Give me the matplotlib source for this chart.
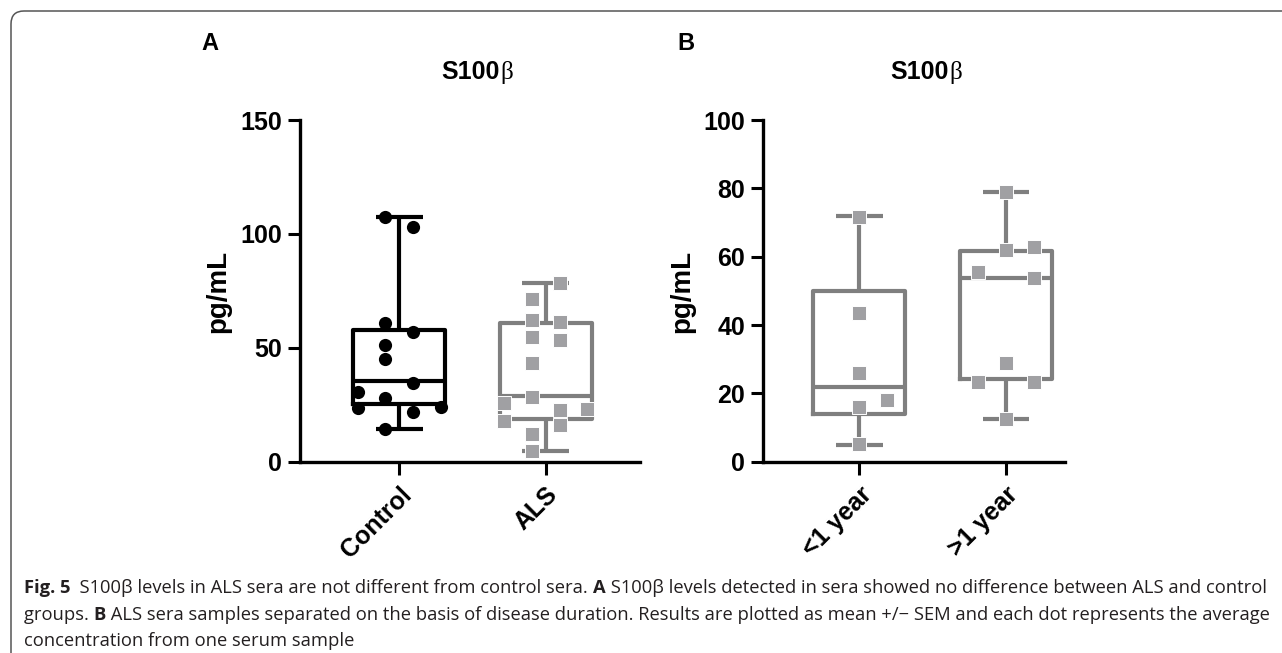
import matplotlib
matplotlib.use("Agg")
import matplotlib.pyplot as plt
from matplotlib.path import Path
from matplotlib.patches import PathPatch
from matplotlib.transforms import IdentityTransform
from matplotlib import font_manager

# ---------------- data ----------------
groups_a = ["Control", "ALS"]
groups_b = ["<1 year", ">1 year"]

control_vals = [107.3, 103.2, 61.0, 57.1, 51.2, 44.9, 34.4, 30.5, 27.8, 24.1, 23.4, 22.0, 14.2]
als_vals = [78.6, 71.3, 62.2, 61.5, 54.9, 53.4, 43.2, 28.5, 25.9, 22.7, 23.0, 17.9, 16.1, 12.0, 4.8]
lt1_vals = [71.7, 43.5, 26.1, 18.1, 16.0, 5.1]
gt1_vals = [79.0, 62.1, 62.8, 55.4, 53.8, 28.9, 23.2, 23.2, 12.4]

# swarm column slot of each point
control_slot = [-0.5, 0.5, -0.5, 0.5, -0.5, -0.5, 0.5, -1.5, -0.5, 1.5, -1.5, 0.5, -0.5]
als_slot = [0.5, -0.5, -0.5, 0.5, -0.5, 0.5, -0.5, -0.5, -1.5, 0.5, 1.5, -1.5, 0.5, -0.5, -0.5]
lt1_slot = [0, 0, 0, 1, 0, 0]
gt1_slot = [0, 0, 1, -1, 1, 0, -1, 1, 0]

# box statistics (whislo, q1, median, q3, whishi)
control_box = [14.2, 25.2, 35.4, 58.0, 107.3]
als_box = [4.8, 18.6, 29.0, 60.7, 78.6]
lt1_box = [5.0, 13.9, 22.0, 50.1, 71.8]
gt1_box = [12.4, 24.2, 53.8, 61.6, 79.0]

yticks_a = [0, 50, 100, 150]
yticks_b = [0, 20, 40, 60, 80, 100]

caption_lines = [
    [("Fig. 5", True), ("  S100\u03b2 levels in ALS sera are not different from control sera. ", False),
     ("A", True), (" S100\u03b2 levels detected in sera showed no difference between ALS and control", False)],
    [("groups. ", False), ("B", True),
     (" ALS sera samples separated on the basis of disease duration. Results are plotted as mean +/\u2212 SEM and each dot represents the average", False)],
    [("concentration from one serum sample", False)],
]

# ---------------- style ----------------
W, H = 1282, 653
fig = plt.figure(figsize=(W / 100, H / 100), dpi=100)
renderer = fig.canvas.get_renderer()
SANS = "Liberation Sans"
BLACK = "black"
GREY_LINE = "#7f7f7f"
GREY_PT = "#a0a0a3"
SLOT = 0.19


def stats(b):
    return dict(whislo=b[0], q1=b[1], med=b[2], q3=b[3], whishi=b[4], fliers=[])


def panel(rect, names, boxes, vals, slots, colors, ptcolors, markers, ms, ylim, yticks, xlim):
    ax = fig.add_axes(rect)
    for i, (b, v, s, c, pc, m) in enumerate(zip(boxes, vals, slots, colors, ptcolors, markers)):
        pos = i + 1
        props = dict(color=c, linewidth=3.0, solid_capstyle="butt")
        ax.bxp([stats(b)], positions=[pos], widths=0.63, capwidths=[0.32],
               boxprops=dict(color=c, linewidth=3.0),
               whiskerprops=props, capprops=props,
               medianprops=dict(color=c, linewidth=3.0, solid_capstyle="butt"),
               showfliers=False, manage_ticks=False, zorder=2)
        xs = [pos + SLOT * k for k in s]
        ax.plot(xs, v, linestyle="none", marker=m, markersize=ms[i], color=pc,
                markeredgecolor="white" if m == "s" else pc, markeredgewidth=0.7 if m == "s" else 0,
                zorder=3, clip_on=False)
    ax.set_xlim(*xlim)
    ax.set_ylim(*ylim)
    ax.set_yticks(yticks)
    ax.set_xticks([1, 2])
    ax.set_xticklabels(names, rotation=45, ha="right", rotation_mode="anchor",
                       fontsize=18, fontweight="bold", family=SANS)
    for lab in ax.get_yticklabels():
        lab.set_fontsize(18)
        lab.set_fontweight("bold")
        lab.set_family(SANS)
    ax.tick_params(axis="both", width=2.2, length=9, color="black")
    ax.tick_params(axis="y", pad=4)
    ax.tick_params(axis="x", pad=6)
    for sp in ["top", "right"]:
        ax.spines[sp].set_visible(False)
    for sp in ["left", "bottom"]:
        ax.spines[sp].set_linewidth(2.4)
    ax.patch.set_alpha(0)
    return ax


ax_a = panel([300 / W, 1 - 461.7 / H, 340 / W, 341.7 / H], groups_a,
             [control_box, als_box], [control_vals, als_vals], [control_slot, als_slot],
             [BLACK, GREY_LINE], [BLACK, GREY_PT], ["o", "s"], [9.5, 10.5],
             (0, 150), yticks_a, (0.322, 2.644))
ax_b = panel([763 / W, 1 - 461.7 / H, 302 / W, 341.7 / H], groups_b,
             [lt1_box, gt1_box], [lt1_vals, gt1_vals], [lt1_slot, gt1_slot],
             [GREY_LINE, GREY_LINE], [GREY_PT, GREY_PT], ["s", "s"], [10.5, 10.5],
             (0, 100), yticks_b, (0.344, 2.402))

# y labels
fig.text(218 / W, 1 - 291 / H, "pg/mL", rotation=90, ha="center", va="center",
         fontsize=20, fontweight="bold", family=SANS)
fig.text(682 / W, 1 - 291 / H, "pg/mL", rotation=90, ha="center", va="center",
         fontsize=20, fontweight="bold", family=SANS)

# panel letters
fig.text(210 / W, 1 - 44 / H, "A", ha="center", va="center", fontsize=17, fontweight="bold", family=SANS)
fig.text(686 / W, 1 - 44 / H, "B", ha="center", va="center", fontsize=17, fontweight="bold", family=SANS)

# titles S100β (bold S100 + regular serif beta)
for left in (441, 890):
    t = fig.text(left / W, 1 - 72 / H, "S100", ha="left", va="center", fontsize=18,
                 fontweight="bold", family=SANS)
    wpx = t.get_window_extent(renderer).width
    fig.text((left + wpx + 1) / W, 1 - 72 / H, "\u03b2", ha="left", va="center", fontsize=18,
             family="Liberation Serif")

# caption, built from bold / regular runs
try:
    font_manager.findfont("Liberation Sans Narrow", fallback_to_default=False)
    CAP = ["Liberation Sans Narrow", "DejaVu Sans"]
except Exception:
    CAP = ["Open Sans", "DejaVu Sans"]

cap_size = 13
x0 = 24
line_y = [588, 615, 641]
target = 1265 - x0


def line_width(runs, size):
    w = 0
    for txt, bold in runs:
        t = fig.text(0, 0, txt, fontsize=size, fontweight="bold" if bold else "normal", family=CAP)
        w += t.get_window_extent(renderer).width
        t.remove()
    return w


lw1 = line_width(caption_lines[0], cap_size)
cap_size = cap_size * target / lw1
for runs, y in zip(caption_lines, line_y):
    x = x0
    for txt, bold in runs:
        t = fig.text(x / W, 1 - y / H, txt, fontsize=cap_size, fontweight="bold" if bold else "normal",
                     family=CAP, ha="left", va="center", color="#231f20")
        x += t.get_window_extent(renderer).width

# rounded border (top and left only visible)
r = 13
verts = [(11, -5), (11, H - 11 - r), (11, H - 11), (11 + r, H - 11), (W + 5, H - 11)]
codes = [Path.MOVETO, Path.LINETO, Path.CURVE3, Path.CURVE3, Path.LINETO]
fig.patches.append(PathPatch(Path(verts, codes), transform=IdentityTransform(), fill=False,
                             edgecolor="#555555", linewidth=1.1, figure=fig))

fig.savefig("out.png", dpi=100)
